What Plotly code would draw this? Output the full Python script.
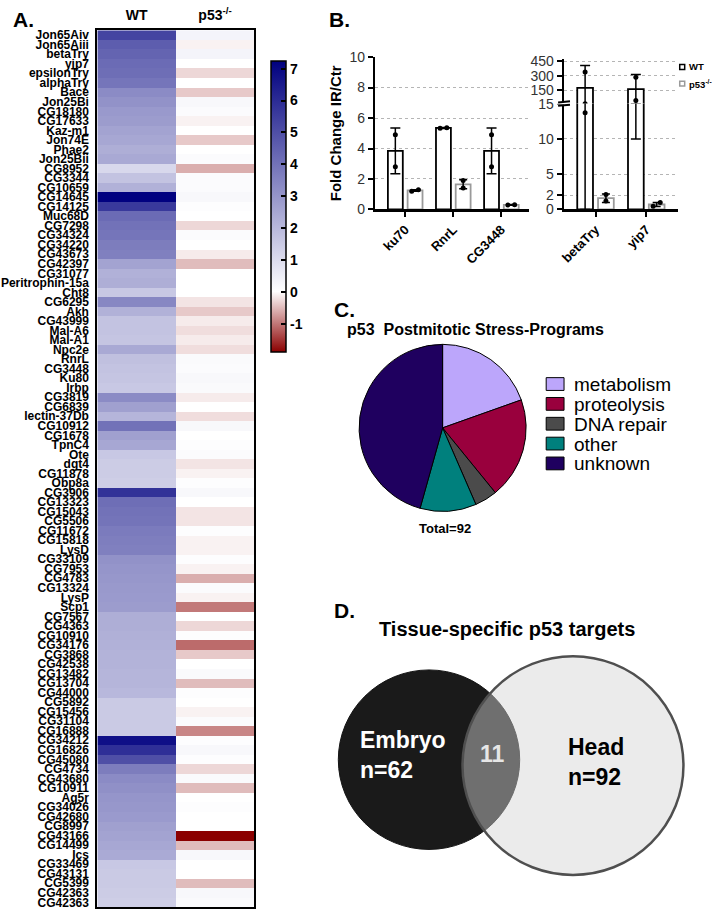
import numpy as np
import plotly.graph_objects as go

FONT = "Liberation Sans, Arial, Helvetica, sans-serif"
W, H = 712, 919

# ---------------- Panel A data ----------------
genes = ["Jon65Aiv", "Jon65Aiii", "betaTry", "yip7", "epsilonTry", "alphaTry", "Bace", "Jon25Bi",
         "CG18180", "CG17633", "Kaz-m1", "Jon74E", "Phae2", "Jon25Bii", "CG8952", "CG3344",
         "CG10659", "CG14645", "CG14125", "Muc68D", "CG7298", "CG34324", "CG34220", "CG43673",
         "CG42397", "CG31077", "Peritrophin-15a", "Cht8", "CG6295", "Akh", "CG43999", "Mal-A6",
         "Mal-A1", "Npc2e", "RnrL", "CG3448", "Ku80", "Irbp", "CG3819", "CG6839",
         "lectin-37Db", "CG10912", "CG1678", "TpnC4", "Ote", "dgt4", "CG11878", "Obp8a",
         "CG3906", "CG13323", "CG15043", "CG5506", "CG11672", "CG15818", "LysD", "CG33109",
         "CG7953", "CG4783", "CG13324", "LysP", "Scp1", "CG7567", "CG4363", "CG10910",
         "CG34176", "CG3868", "CG42538", "CG13482", "CG13704", "CG44000", "CG5892", "CG15456",
         "CG31104", "CG16888", "CG34212", "CG16826", "CG45080", "CG4734", "CG43680", "CG10911",
         "Ag5r", "CG34026", "CG42680", "CG8997", "CG43166", "CG14499", "Ics", "CG33469",
         "CG43131", "CG5399", "CG42363", "CG42363"]

wt_fc = [5.3, 4.6, 4.4, 4.2, 4.1, 3.9, 3.3, 3.1,
         2.9, 2.8, 2.6, 2.5, 2.3, 2.45, 1.1, 1.7,
         2.2, 7.2, 5.6, 4.2, 4.0, 3.9, 3.7, 3.6,
         2.6, 2.2, 2.3, 1.55, 3.4, 2.2, 1.7, 1.7,
         1.65, 2.45, 1.8, 1.7, 1.65, 1.55, 3.3, 2.7,
         2.1, 4.0, 2.7, 2.5, 1.55, 1.45, 1.45, 1.4,
         5.8, 4.1, 4.0, 3.95, 3.75, 3.65, 3.6, 3.1,
         3.0, 2.95, 2.9, 2.85, 2.8, 2.3, 2.3, 2.25,
         2.2, 2.15, 2.15, 2.1, 2.1, 2.0, 1.5, 1.5,
         1.5, 1.5, 6.8, 5.9, 5.0, 3.7, 3.3, 3.15,
         3.0, 2.95, 2.85, 2.7, 2.6, 2.5, 2.4, 1.55,
         1.5, 1.5, 1.45, 1.4]

p53_fc = [0.3, -0.1, 0.3, 0.0, -0.3, 0.0, -0.4, 0.2,
          0.1, -0.1, 0.0, -0.4, 0.0, 0.1, -0.6, 0.1,
          0.1, 0.2, 0.05, 0.0, -0.3, 0.1, 0.0, -0.15,
          -0.5, 0.0, 0.0, 0.0, -0.2, -0.4, -0.15, -0.25,
          -0.15, -0.25, 0.15, 0.1, 0.2, 0.15, -0.15, 0.0,
          -0.25, 0.2, 0.0, 0.05, 0.1, -0.2, -0.1, 0.05,
          0.2, 0.0, -0.2, -0.2, 0.05, -0.1, -0.1, 0.05,
          -0.1, -0.6, 0.1, -0.1, -1.0, 0.0, -0.3, 0.05,
          -1.1, -0.4, 0.0, 0.15, -0.5, 0.05, 0.0, -0.1,
          0.1, -0.9, 0.05, 0.2, 0.05, -0.3, 0.15, -0.5,
          0.0, 0.05, 0.0, 0.0, -1.9, -0.5, 0.2, 0.0,
          0.0, -0.5, 0.2, 0.15]

heat_columns = ["WT", "p53<sup>-/-</sup>"]
cbar_ticks = [-1, 0, 1, 2, 3, 4, 5, 6, 7]
cbar_ticktext = ["-1", "0", "1", "2", "3", "4", "5", "6", "7"]
ZMIN, ZMAX = -1.9, 7.23

# ---------------- Panel B data ----------------
qpcr_genes_low = ["ku70", "RnrL", "CG3448"]
wt_mean_low = [3.85, 5.35, 3.85]
wt_err_low = [1.5, 0.03, 1.5]
wt_pts_low = [[4.9, 2.8], [5.33, 5.37], [4.9, 2.8]]
p53_mean_low = [1.25, 1.65, 0.3]
p53_err_low = [0.05, 0.3, 0.02]
p53_pts_low = [[1.2, 1.3], [1.9, 1.4], [0.29, 0.31]]

qpcr_genes_high = ["betaTry", "yip7"]
wt_mean_high = [177, 165]
wt_errp_high = [230, 150]
wt_errm_high = [177, 155]
wt_pts_high = [[341, 13.7], [285, 48]]
p53_mean_high = [1.6, 0.7]
p53_err_high = [0.6, 0.3]
p53_pts_high = [[2.1, 1.2], [0.45, 1.0]]

low_ticks = [0, 2, 4, 6, 8, 10]
high_ticks_lower = [0, 2, 5, 10, 15]
high_ticks_upper = [150, 300, 450]

# ---------------- Panel C data ----------------
pie_labels = ["metabolism", "proteolysis", "DNA repair", "other", "unknown"]
pie_counts = [18, 18, 4, 10, 42]
pie_colors = ["#bca6fb", "#99003d", "#4b4b4b", "#00807d", "#1f005f"]

# ---------------- Panel D data ----------------
venn_names = ["Embryo", "Head"]
venn_sizes = [62, 92]
venn_shared = 11


def px_x(p):
    return p / W


def px_y(p):
    return 1 - p / H


fig = go.Figure()

# ---------- Heatmap ----------
z = np.column_stack([wt_fc, p53_fc])
z0 = (0 - ZMIN) / (ZMAX - ZMIN)
colorscale = [[0, "#8b0000"], [z0, "#ffffff"], [1, "#00007f"]]
fig.add_trace(go.Heatmap(
    z=z, x=[0, 1], y=list(range(len(genes))), zmin=ZMIN, zmax=ZMAX,
    colorscale=colorscale, xaxis="x", yaxis="y", hoverinfo="skip",
    colorbar=dict(x=px_x(268), xanchor="left", xpad=0, ypad=0,
                  y=px_y(54.3), yanchor="top", len=(350.7 - 54.3) / H, lenmode="fraction",
                  thickness=15, thicknessmode="pixels", outlinewidth=1.5, outlinecolor="black",
                  tickmode="array", tickvals=cbar_ticks, ticktext=cbar_ticktext,
                  ticks="inside", ticklen=5, tickwidth=2, tickcolor="black",
                  tickfont=dict(size=14, family=FONT, weight="bold", color="black")),
))

# ---------- Panel B bars ----------
OFF_WT, OFF_P53, BW = -0.36, 0.05, 0.31


def point_xs(center, pts, span):
    if len(pts) == 2 and abs(pts[0] - pts[1]) < 0.04 * span:
        return [center - 0.07, center + 0.07]
    return [center] * len(pts)


def add_group(xa, ya, wt_mean, wt_errp, wt_errm, wt_pts, p_mean, p_err, p_pts, span,
              with_p53=True):
    xs = list(range(len(wt_mean)))
    fig.add_trace(go.Bar(
        x=xs, y=wt_mean, width=BW, offset=OFF_WT, xaxis=xa, yaxis=ya, showlegend=False,
        marker=dict(color="white", line=dict(color="black", width=1.8)),
        error_y=dict(type="data", symmetric=False, array=wt_errp, arrayminus=wt_errm,
                     color="black", thickness=1.5, width=5)))
    px_, py_ = [], []
    for i, pts in enumerate(wt_pts):
        px_ += point_xs(i + OFF_WT + BW / 2, pts, span)
        py_ += pts
    if with_p53:
        fig.add_trace(go.Bar(
            x=xs, y=p_mean, width=BW, offset=OFF_P53, xaxis=xa, yaxis=ya, showlegend=False,
            marker=dict(color="white", line=dict(color="#9a9a9a", width=1.8)),
            error_y=dict(type="data", array=p_err, color="black", thickness=1.5, width=4)))
        for i, pts in enumerate(p_pts):
            px_ += point_xs(i + OFF_P53 + BW / 2, pts, span)
            py_ += pts
    fig.add_trace(go.Scatter(x=px_, y=py_, mode="markers", xaxis=xa, yaxis=ya, showlegend=False,
                             marker=dict(color="black", size=5), hoverinfo="skip"))


add_group("x2", "y2", wt_mean_low, wt_err_low, wt_err_low, wt_pts_low,
          p53_mean_low, p53_err_low, p53_pts_low, 10)
add_group("x3", "y3", wt_mean_high, wt_errp_high, wt_errm_high, wt_pts_high,
          p53_mean_high, p53_err_high, p53_pts_high, 15)
add_group("x4", "y4", wt_mean_high, wt_errp_high, wt_errm_high, wt_pts_high,
          p53_mean_high, p53_err_high, p53_pts_high, 450, with_p53=False)

# ---------- Panel C pie ----------
cx, cy, r = 440.7, 427.3, 85
fig.add_trace(go.Pie(
    labels=pie_labels, values=pie_counts, sort=False, direction="clockwise", rotation=0,
    textinfo="none", hoverinfo="label+value", showlegend=False,
    marker=dict(colors=pie_colors, line=dict(color="black", width=1)),
    domain=dict(x=[px_x(cx - r), px_x(cx + r)], y=[px_y(cy + r), px_y(cy - r)]),
))

# ---------- Layout ----------
tick_black = dict(family=FONT, color="black")
bar_axis = dict(showline=True, linecolor="black", linewidth=2.5, ticks="outside", ticklen=5,
                tickwidth=2, tickcolor="black", zeroline=False, fixedrange=True)
grid = dict(showgrid=True, griddash="dot", gridcolor="#b5b5b5", gridwidth=1)
ytick_font = dict(size=14, family=FONT, color="#333333")

layout = dict(
    width=W, height=H, autosize=False,
    margin=dict(l=0, r=0, t=0, b=0), paper_bgcolor="white", plot_bgcolor="white",
    font=dict(family=FONT, color="black"),
    showlegend=False,
    xaxis=dict(domain=[px_x(93), px_x(251)], range=[-0.5, 1.5], side="top", anchor="y",
               tickmode="array", tickvals=[0, 1], ticktext=heat_columns, ticks="",
               ticklabelstandoff=3,
               tickfont=dict(size=14, weight="bold", **tick_black),
               showline=True, mirror=True, linecolor="black", linewidth=2, showgrid=False,
               zeroline=False, fixedrange=True),
    yaxis=dict(domain=[px_y(915), px_y(22.7)], range=[len(genes) - 0.5, -0.5], anchor="x",
               tickmode="array", tickvals=list(range(len(genes))), ticktext=genes, ticks="",
               ticklabelstandoff=4,
               tickfont=dict(size=12, weight="bold", **tick_black),
               showline=True, mirror=True, linecolor="black", linewidth=2, showgrid=False,
               zeroline=False, fixedrange=True),
    xaxis2=dict(domain=[px_x(373), px_x(528)], range=[-0.62, 2.58], anchor="y2",
                tickmode="array", tickvals=[0, 1, 2], ticktext=qpcr_genes_low, tickangle=-45,
                tickfont=dict(size=13, weight="bold", **tick_black), showgrid=False, **bar_axis),
    yaxis2=dict(domain=[px_y(205), px_y(50)], range=[0, 10], anchor="x2",
                tickmode="array", tickvals=low_ticks, tickfont=ytick_font,
                title=dict(text="Fold Change IR/Ctr", standoff=4,
                           font=dict(size=15, weight="bold", **tick_black)),
                **grid, **bar_axis),
    xaxis3=dict(domain=[px_x(563), px_x(678)], range=[-0.62, 1.63], anchor="y3",
                tickmode="array", tickvals=[0, 1], ticktext=qpcr_genes_high, tickangle=-45,
                tickfont=dict(size=13, weight="bold", **tick_black), showgrid=False, **bar_axis),
    yaxis3=dict(domain=[px_y(205), px_y(97.3)], range=[0, 15], anchor="x3",
                tickmode="array", tickvals=high_ticks_lower, tickfont=ytick_font,
                **grid, **bar_axis),
    xaxis4=dict(domain=[px_x(563), px_x(678)], range=[-0.62, 1.63], anchor="y4",
                visible=False, fixedrange=True),
    yaxis4=dict(domain=[px_y(97.3), px_y(51.7)], range=[15, 476], anchor="x4",
                tickmode="array", tickvals=high_ticks_upper, tickfont=ytick_font,
                **grid, **bar_axis),
    xaxis5=dict(domain=[px_x(320), 1], range=[320, 712], anchor="y5", visible=False,
                fixedrange=True),
    yaxis5=dict(domain=[0, px_y(640)], range=[919, 640], anchor="x5", visible=False,
                fixedrange=True),
    barmode="overlay",
)
fig.update_layout(**layout)

shapes = []
annotations = []

# axis break marks on panel B right axis
shapes.append(dict(type="rect", xref="paper", yref="paper", x0=px_x(556), x1=px_x(570),
                   y0=px_y(98.3), y1=px_y(96.0), fillcolor="white", line=dict(width=0),
                   layer="above"))
for yy in (95.5, 99.0):
    shapes.append(dict(type="line", xref="paper", yref="paper", x0=px_x(557), x1=px_x(569),
                       y0=px_y(yy + 0.6), y1=px_y(yy - 0.6), line=dict(color="black", width=2),
                       layer="above"))

# panel B legend
for i, (name, col) in enumerate(zip(["WT", "p53<sup>-/-</sup>"], ["black", "#9a9a9a"])):
    yc = 60 + i * 17
    shapes.append(dict(type="rect", xref="paper", yref="paper", x0=px_x(679.5), x1=px_x(684.5),
                       y0=px_y(yc + 2.5), y1=px_y(yc - 2.5), line=dict(color=col, width=1.5),
                       fillcolor="white"))
    annotations.append(dict(text=name, x=px_x(687), y=px_y(yc), xref="paper", yref="paper",
                            xanchor="left", yanchor="middle", showarrow=False,
                            font=dict(size=9.5, weight="bold", family=FONT, color="black")))

# panel C legend (drawn as key boxes + labels)
for i, (lab, col) in enumerate(zip(pie_labels, pie_colors)):
    yc = 382.7 + i * 20.2
    shapes.append(dict(type="rect", xref="paper", yref="paper", x0=px_x(545), x1=px_x(563),
                       y0=px_y(yc + 6.5), y1=px_y(yc - 6.5), fillcolor=col,
                       line=dict(color="black", width=1)))
    annotations.append(dict(text=lab, x=px_x(571), y=px_y(yc + 0.5), xref="paper", yref="paper",
                            xanchor="left", yanchor="middle", showarrow=False,
                            font=dict(size=19, family=FONT, color="black")))

# panel letters
for letter, x, y in [("A.", 6, 12), ("B.", 324, 12), ("C.", 329, 307), ("D.", 329, 613)]:
    annotations.append(dict(text=letter, x=px_x(x), y=px_y(y), xref="paper", yref="paper",
                            xanchor="left", yanchor="middle", showarrow=False,
                            font=dict(size=21, weight="bold", family=FONT, color="black")))

# pie title & total
annotations.append(dict(text="p53  Postmitotic Stress-Programs", x=px_x(342), y=px_y(327),
                        xref="paper", yref="paper", xanchor="left", yanchor="middle",
                        showarrow=False, font=dict(size=16, weight="bold", family=FONT)))
annotations.append(dict(text=f"Total={sum(pie_counts)}", x=px_x(443), y=px_y(530),
                        xref="paper", yref="paper", xanchor="center", yanchor="middle",
                        showarrow=False, font=dict(size=13, weight="bold", family=FONT)))

# panel D venn
annotations.append(dict(text="Tissue-specific p53 targets", x=px_x(506), y=px_y(632),
                        xref="paper", yref="paper", xanchor="center", yanchor="middle",
                        showarrow=False, font=dict(size=20, weight="bold", family=FONT)))
k = 11.6
radii = [k * np.sqrt(n) for n in venn_sizes]
centers = [(427, 765), (572, 771)]
fills = ["#1a1a1a", "rgba(212,212,212,0.46)"]
lines = [dict(color="#151515", width=1), dict(color="#4f4f4f", width=2.5)]
for (vx, vy), rr, fc, ln in zip(centers, radii, fills, lines):
    shapes.append(dict(type="circle", xref="x5", yref="y5", x0=vx - rr, x1=vx + rr,
                       y0=vy - rr, y1=vy + rr, fillcolor=fc, line=ln, layer="above"))

venn_font = dict(size=23, weight="bold", family=FONT)
annotations.append(dict(text=f"{venn_names[0]}<br>n={venn_sizes[0]}", x=355, y=760, xref="x5",
                        yref="y5", xanchor="left", yanchor="middle", align="left",
                        showarrow=False, font=dict(color="white", **venn_font)))
annotations.append(dict(text=str(venn_shared), x=491, y=759, xref="x5", yref="y5",
                        xanchor="center", yanchor="middle", showarrow=False,
                        font=dict(color="#e6e6e6", **venn_font)))
annotations.append(dict(text=f"{venn_names[1]}<br>n={venn_sizes[1]}", x=565, y=767, xref="x5",
                        yref="y5", xanchor="left", yanchor="middle", align="left",
                        showarrow=False, font=dict(color="black", **venn_font)))

fig.update_layout(shapes=shapes, annotations=annotations)

fig.write_html("out.html", include_plotlyjs=True, full_html=True,
               config={"displayModeBar": False, "staticPlot": True},
               post_script="document.body.style.margin='0px';document.body.style.overflow='hidden';")
